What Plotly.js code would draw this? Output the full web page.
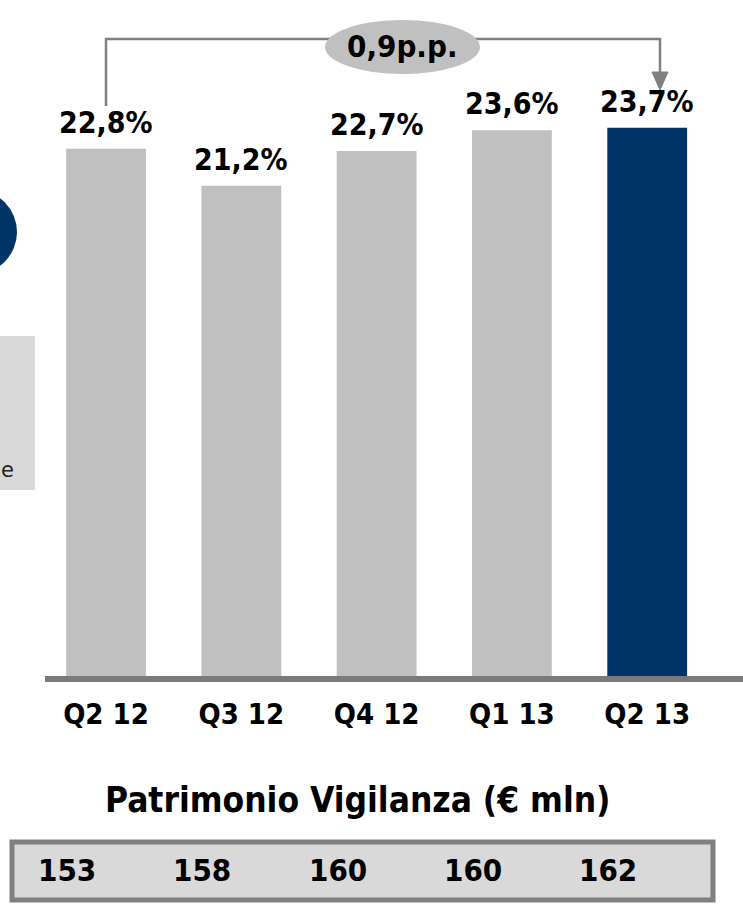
<!DOCTYPE html>
<html>
<head>
<meta charset="utf-8">
<script src="https://cdn.plot.ly/plotly-3.0.1.min.js"></script>
<style>html,body{margin:0;padding:0;background:#fff;}#chart{width:743px;height:905px;}</style>
</head>
<body>
<div id="chart"></div>
<script>
// ---- data ----
const categories = ["Q2 12", "Q3 12", "Q4 12", "Q1 13", "Q2 13"];
const ratioValues = [22.8, 21.2, 22.7, 23.6, 23.7];
const ratioLabels = ["22,8%", "21,2%", "22,7%", "23,6%", "23,7%"];
const patrimonioValues = [153, 158, 160, 160, 162];
const deltaLabel = "0,9p.p.";
const tableTitle = "Patrimonio Vigilanza (€ mln)";

// ---- layout helpers (pixel -> paper) ----
const W = 743, H = 905;
const M = {l: 45, r: 0, t: 0, b: 229};
const PW = W - M.l - M.r, PH = H - M.t - M.b;
const px = v => (v - M.l) / PW;
const py = v => (H - M.b - v) / PH;

const FONT = "DejaVu Sans Condensed, DejaVu Sans, Verdana, sans-serif";
const GREY = "#c0c0c0", NAVY = "#003366", LINE = "#808080";

const colors = categories.map((c, i) => i === categories.length - 1 ? NAVY : GREY);

const trace = {
  type: "bar",
  x: categories,
  y: ratioValues,
  marker: {color: colors, line: {width: 0}},
  width: 0.59,
  hoverinfo: "skip"
};

const annotations = [];
// value labels
categories.forEach((c, i) => {
  annotations.push({
    x: c, y: ratioValues[i], xref: "x", yref: "y",
    text: "<b>" + ratioLabels[i] + "</b>", showarrow: false,
    yanchor: "bottom", yshift: 7,
    font: {family: FONT, size: 30, color: "#000"}
  });
});
// patrimonio row
categories.forEach((c, i) => {
  annotations.push({
    x: c, y: py(870), xref: "x", yref: "paper",
    text: "<b>" + patrimonioValues[i] + "</b>", showarrow: false,
    xshift: -39, yanchor: "middle",
    font: {family: FONT, size: 31, color: "#000"}
  });
});
// table title
annotations.push({
  x: px(357), y: py(800), xref: "paper", yref: "paper",
  text: "<b>" + tableTitle + "</b>", showarrow: false, yanchor: "middle",
  font: {family: FONT, size: 35, color: "#000"}
});
// delta ellipse label
annotations.push({
  x: px(402), y: py(46), xref: "paper", yref: "paper",
  text: "<b>" + deltaLabel + "</b>", showarrow: false, yanchor: "middle",
  font: {family: FONT, size: 31, color: "#000"}
});
// cut-off text on left
annotations.push({
  x: px(-1), y: py(470), xref: "paper", yref: "paper", xanchor: "left",
  text: "e", showarrow: false, yanchor: "middle",
  font: {family: "DejaVu Sans, sans-serif", size: 21, color: "#222"}
});

const shapes = [
  // left decorations (cropped slide elements)
  {type: "circle", xref: "paper", yref: "paper", x0: px(-67), x1: px(17), y0: py(274), y1: py(190),
   fillcolor: NAVY, line: {width: 0}, layer: "below"},
  {type: "rect", xref: "paper", yref: "paper", x0: px(0), x1: px(35), y0: py(490), y1: py(336),
   fillcolor: "#d9d9d9", line: {width: 0}, layer: "below"},
  // bracket line
  {type: "path", xref: "paper", yref: "paper",
   path: `M ${px(106)} ${py(106)} L ${px(106)} ${py(39)} L ${px(660)} ${py(39)} L ${px(660)} ${py(74)}`,
   line: {color: LINE, width: 2.5}},
  // arrow head
  {type: "path", xref: "paper", yref: "paper",
   path: `M ${px(652)} ${py(72)} L ${px(668)} ${py(72)} L ${px(660)} ${py(90)} Z`,
   fillcolor: LINE, line: {color: LINE, width: 1}},
  // ellipse
  {type: "circle", xref: "paper", yref: "paper", x0: px(325), x1: px(480), y0: py(74), y1: py(20),
   fillcolor: GREY, line: {width: 0}},
  // table box
  {type: "rect", xref: "paper", yref: "paper", x0: px(12), x1: px(713), y0: py(900), y1: py(842),
   fillcolor: "#d9d9d9", line: {color: LINE, width: 5}}
];

const layout = {
  width: W, height: H,
  margin: M,
  paper_bgcolor: "#fff", plot_bgcolor: "#fff",
  showlegend: false,
  bargap: 0.4,
  xaxis: {
    type: "category", range: [-0.451, 4.708], fixedrange: true,
    showline: true, linecolor: "#7a7a7a", linewidth: 6,
    showgrid: false, zeroline: false, ticks: "",
    tickfont: {family: FONT, size: 29, color: "#000"},
    ticklabelstandoff: 7
  },
  yaxis: {range: [0, 676 / 23.13], visible: false, fixedrange: true},
  annotations: annotations,
  shapes: shapes
};

// bold tick labels
layout.xaxis.tickvals = categories;
layout.xaxis.ticktext = categories.map(c => "<b>" + c + "</b>");

Plotly.newPlot("chart", [trace], layout, {displayModeBar: false, staticPlot: true});
</script>
</body>
</html>
